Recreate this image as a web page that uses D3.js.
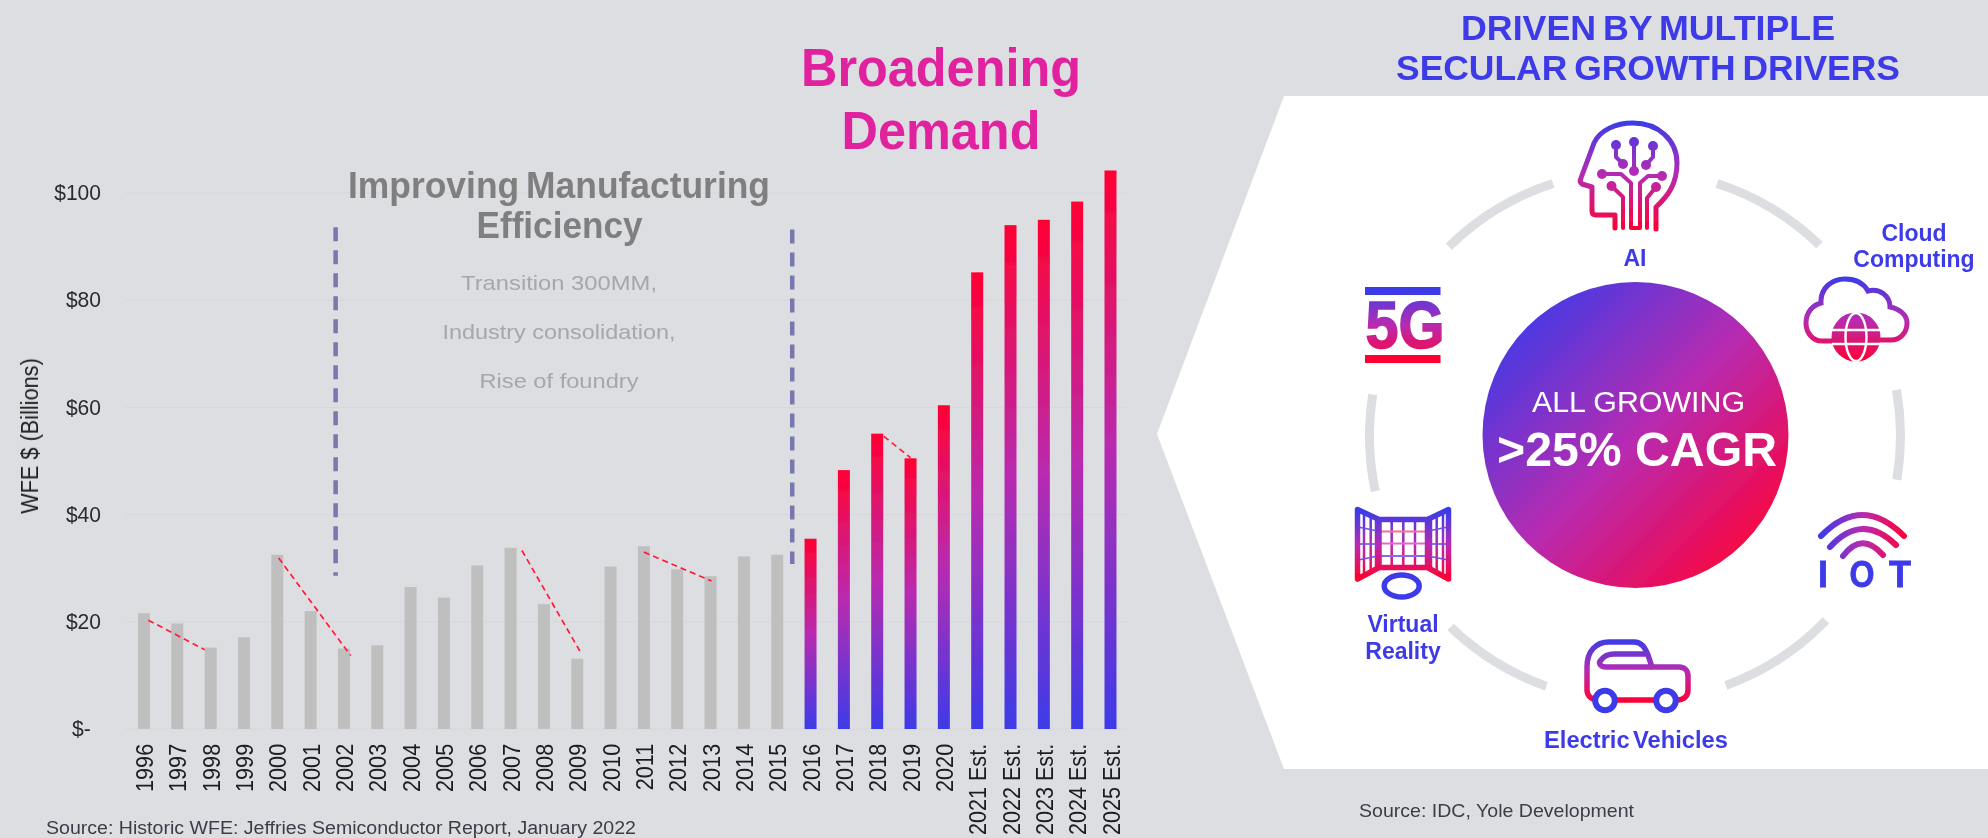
<!DOCTYPE html>
<html>
<head>
<meta charset="utf-8">
<script src="https://d3js.org/d3.v7.min.js"></script>
<style>
    html, body { margin: 0; padding: 0; background: #dddee2; overflow: hidden; }
    text { font-family: "Liberation Sans", Arial, sans-serif; }
</style>
</head>
<body>
<svg id="canvas" width="1988" height="838"></svg>

<script>
    // chart data
    const categories = ["1996","1997","1998","1999","2000","2001","2002","2003","2004","2005",
        "2006","2007","2008","2009","2010","2011","2012","2013","2014","2015",
        "2016","2017","2018","2019","2020","2021 Est.","2022 Est.","2023 Est.","2024 Est.","2025 Est."];
    const wfeValues = [21.6,19.7,15.2,17.1,32.5,22,15,15.6,26.5,24.5,
        30.5,33.8,23.3,13.1,30.3,34.1,29.8,28.5,32.2,32.5,
        35.5,48.3,55.1,50.5,60.4,85.2,94,95,98.4,104.2];
    const firstBroadening = "2016";
    const yTicks = [0,20,40,60,80,100];
    // downturn lines: [year, value, year, value]
    const downturns = [
        [1996.13,20.3,1997.82,14.8],
        [2000.04,31.9,2002.2,13.7],
        [2007.34,33.3,2009.1,14.3],
        [2011.0,33,2013.03,27.6],
        [2018.2,54.6,2019,50.6]
    ];
    // era dividers: [year, top value, bottom value]
    const dividers = [[2001.75,93.6,28.6],[2015.45,93.2,30.8]];
    const manufacturingNotes = ["Transition 300MM,","Industry consolidation,","Rise of foundry"];
    const noteWidths = [196,233,159];
    // ring segments around the circle, degrees clockwise from the top
    const ringSegments = [[18,44],[80,99.5],[134,160],[199.5,224],[258,279],[315.5,342]];

    const BLUE = "#3d3be8", MID = "#b82bb0", RED = "#ff0033";
    const svg = d3.select("#canvas");
    const defs = svg.append("defs");

    function gradient(id, x1, y1, x2, y2, units) {
        const g = defs.append("linearGradient").attr("id", id)
            .attr("gradientUnits", units || "userSpaceOnUse")
            .attr("x1", x1).attr("y1", y1).attr("x2", x2).attr("y2", y2);
        g.append("stop").attr("offset", 0).attr("stop-color", BLUE);
        g.append("stop").attr("offset", 0.5).attr("stop-color", MID);
        g.append("stop").attr("offset", 1).attr("stop-color", RED);
    }
    gradient("barGrad", 0, 1, 0, 0, "objectBoundingBox");
    gradient("circleGrad", 1510, 310, 1765, 565);
    gradient("aiGrad", 0, 122, 0, 230);
    gradient("cloudGrad", 0, 278, 0, 362);
    gradient("fiveGrad", 0, -54, 0, 13); // local to the scaled 5G text
    gradient("iotGrad", 1820, 0, 1906, 0);
    gradient("carGrad", 0, 640, 0, 702);
    gradient("vrGrad", 0, 512, 0, 578);

    const blur = defs.append("filter").attr("id", "soft");
    blur.append("feGaussianBlur").attr("stdDeviation", 0.45);

    const root = svg.append("g").attr("filter", "url(#soft)");

    // left chart
    const y = d3.scaleLinear().domain([0, 100]).range([729, 193]);
    const x = d3.scalePoint().domain(categories).range([144, 1110.5]);
    const yearX = d3.scaleLinear().domain([1996, 2025]).range([144, 1110.5]);
    const barWidth = 12;
    const gridRight = 1127, gridLeft = 125.5;

    root.append("g").selectAll("line").data(yTicks).join("line")
        .attr("x1", gridLeft).attr("x2", gridRight)
        .attr("y1", d => y(d)).attr("y2", d => y(d))
        .attr("stroke", "#d6d7da").attr("stroke-width", 1);

    const yAxis = d3.axisLeft(y).tickValues(yTicks).tickSize(0)
        .tickFormat(d => d === 0 ? "$-" : "$" + d);
    const yG = root.append("g").attr("transform", "translate(101,0)").call(yAxis);
    yG.select(".domain").remove();
    yG.selectAll("text").attr("transform", "scale(0.94,1)")
        .attr("x", d => d === 0 ? -11 : 0).attr("dy", "0.3em")
        .style("font-size", "22.4px").style("font-family", "Liberation Sans").attr("fill", "#2b2b30");

    root.append("text").attr("transform", "translate(38,436) rotate(-90) scale(0.905,1)")
        .attr("text-anchor", "middle").attr("font-size", 24).attr("fill", "#1c1c20")
        .text("WFE $ (Billions)");

    const start = categories.indexOf(firstBroadening);
    root.append("g").selectAll("rect").data(categories).join("rect")
        .attr("x", d => x(d) - barWidth / 2)
        .attr("width", barWidth)
        .attr("y", (d, i) => y(wfeValues[i]))
        .attr("height", (d, i) => y(0) - y(wfeValues[i]))
        .attr("fill", (d, i) => i >= start ? "url(#barGrad)" : "#bfbfbf");

    const xAxis = d3.axisBottom(x).tickSize(0);
    const xG = root.append("g").attr("transform", "translate(0,729)").call(xAxis);
    xG.select(".domain").remove();
    xG.selectAll("text")
        .attr("transform", "rotate(-90) scale(0.9,1)")
        .attr("text-anchor", "end")
        .attr("x", -16.5).attr("y", 0).attr("dy", "0.36em")
        .style("font-size", "24px").style("font-family", "Liberation Sans").attr("fill", "#1c1c20");

    root.append("g").selectAll("line").data(downturns).join("line")
        .attr("x1", d => yearX(d[0])).attr("y1", d => y(d[1]))
        .attr("x2", d => yearX(d[2])).attr("y2", d => y(d[3]))
        .attr("stroke", "#ff1a3c").attr("stroke-width", 1.7).attr("stroke-dasharray", "6 4");

    root.append("g").selectAll("line").data(dividers).join("line")
        .attr("x1", d => yearX(d[0])).attr("x2", d => yearX(d[0]))
        .attr("y1", d => y(d[1])).attr("y2", d => y(d[2]))
        .attr("stroke", "#7778ae").attr("stroke-width", 4.5).attr("stroke-dasharray", "14 9");

    function label(parent, str, cx, base, size, fill, width, weight, opts) {
        const o = opts || {};
        const t = parent.append("text")
            .attr("text-anchor", "middle").attr("font-size", size).attr("fill", fill)
            .attr("font-weight", weight || "normal").text(str);
        if (o.sy) t.attr("transform", `translate(${cx},${base}) scale(1,${o.sy})`);
        else t.attr("x", cx).attr("y", base);
        if (o.ws) t.attr("word-spacing", o.ws);
        if (width) t.attr("textLength", width).attr("lengthAdjust", "spacingAndGlyphs");
        return t;
    }

    label(root, "Broadening", 941, 85.5, 51, "#e0219e", 280, "bold", { sy: 1.05 });
    label(root, "Demand", 941, 148.5, 51, "#e0219e", 199, "bold", { sy: 1.05 });
    label(root, "Improving Manufacturing", 559, 198, 36, "#7f7f7f", 422, "bold", { ws: -3 });
    label(root, "Efficiency", 559.5, 238, 36, "#7f7f7f", 166, "bold");
    manufacturingNotes.forEach((n, i) => label(root, n, 559, 290 + i * 49, 21, "#a6a6ae", noteWidths[i]));

    label(root, "Source: Historic WFE: Jeffries Semiconductor Report, January 2022", 341, 834, 18, "#3c3c48", 590);

    // right panel
    root.append("polygon")
        .attr("points", [[1284,96],[1988,96],[1988,769],[1284,769],[1157,434]].map(p => p.join(",")).join(" "))
        .attr("fill", "#ffffff");

    label(root, "DRIVEN BY MULTIPLE", 1648, 39.5, 35.5, BLUE, 374, "bold", { ws: -3 });
    label(root, "SECULAR GROWTH DRIVERS", 1648, 80, 35.5, BLUE, 504, "bold", { ws: -3 });
    label(root, "Source: IDC, Yole Development", 1496.5, 817, 18.5, "#3c3c48", 275);

    const cx = 1635, cy = 436;
    const arc = d3.arc().innerRadius(261).outerRadius(270);
    root.append("g").attr("transform", `translate(${cx},${cy})`)
        .selectAll("path").data(ringSegments).join("path")
        .attr("d", d => arc({ startAngle: d[0] * Math.PI / 180, endAngle: d[1] * Math.PI / 180 }))
        .attr("fill", "#dddee2");

    root.append("circle").attr("cx", 1635.5).attr("cy", 435).attr("r", 153).attr("fill", "url(#circleGrad)");
    label(root, "ALL GROWING", 1638.5, 411.5, 30, "#ffffff", 213);
    label(root, ">25% CAGR", 1637, 465.5, 49, "#ffffff", 280, "bold");

    // icon labels
    label(root, "AI", 1635, 266, 23, BLUE, null, "bold");
    label(root, "Cloud", 1914, 241, 23, BLUE, null, "bold");
    label(root, "Computing", 1914, 266.5, 23, BLUE, null, "bold");
    label(root, "Virtual", 1403, 632, 23, BLUE, null, "bold");
    label(root, "Reality", 1403, 658.5, 23, BLUE, null, "bold");
    label(root, "Electric Vehicles", 1636, 748, 23, BLUE, 184, "bold", { ws: -3 });

    // AI head icon
    const ai = root.append("g").attr("fill", "none").attr("stroke", "url(#aiGrad)").attr("stroke-width", 5)
        .attr("stroke-linecap", "round").attr("stroke-linejoin", "round");
    ai.append("path").attr("d", "M1615,228 V215 H1596 Q1592,215 1592,211 V187 L1582,184 Q1579,182 1581,178 L1594,143 C1600,130 1616,123 1633,123 C1658,123 1677,140 1677,163 C1677,184 1668,196 1656,207 V229");
    ["M1634,142 V171","M1616,145 V157 L1623,164","M1653,146 V157 L1646,165",
     "M1602,174 H1621 L1631,183 V228 H1640 V183 L1648,176 H1662",
     "M1611.5,186 L1623,197 V228","M1656,187 L1647,198 V228"].forEach(d => ai.append("path").attr("d", d).attr("stroke-width", 4));
    const aiNodes = [[1634,142],[1616,145],[1653,146],[1623,164],[1646,165],[1634,171],[1602,174],[1662,176],[1611.5,186],[1656,187]];
    ai.selectAll("circle").data(aiNodes).join("circle")
        .attr("cx", d => d[0]).attr("cy", d => d[1]).attr("r", 5)
        .attr("fill", "url(#aiGrad)").attr("stroke", "none");

    // cloud icon
    const cloud = root.append("g");
    cloud.append("path").attr("fill", "none").attr("stroke", "url(#cloudGrad)").attr("stroke-width", 5)
        .attr("stroke-linecap", "round")
        .attr("d", "M1832,341 H1822 C1812,341 1806,332 1806,323 C1806,312 1813,305 1821,303 C1820,288 1832,279 1845,279 C1856,279 1864,284 1868,291 C1880,288 1890,296 1890,307 C1900,309 1907,315 1907,323 C1907,333 1900,340 1891,340 H1881");
    cloud.append("circle").attr("cx", 1856).attr("cy", 337).attr("r", 24.5).attr("fill", "url(#cloudGrad)");
    const globe = cloud.append("g").attr("fill", "none").attr("stroke", "#fff").attr("stroke-width", 2.4);
    globe.append("ellipse").attr("cx", 1856).attr("cy", 337).attr("rx", 10.5).attr("ry", 24);
    globe.append("line").attr("x1", 1832).attr("x2", 1880).attr("y1", 330).attr("y2", 330);
    globe.append("line").attr("x1", 1832).attr("x2", 1880).attr("y1", 344).attr("y2", 344);

    // 5G icon
    root.append("rect").attr("x", 1365).attr("y", 287).attr("width", 75.5).attr("height", 8).attr("fill", BLUE);
    root.append("rect").attr("x", 1365).attr("y", 355).attr("width", 75.5).attr("height", 8).attr("fill", RED);
    label(root, "5G", 1405, 348, 60, "url(#fiveGrad)", 79, "bold", { sy: 1.12 })
        .attr("stroke", "url(#fiveGrad)").attr("stroke-width", 1.5);

    // IOT icon
    const iot = root.append("g");
    iot.append("g").attr("fill", "none").attr("stroke", "url(#iotGrad)").attr("stroke-width", 6).attr("stroke-linecap", "round")
        .selectAll("path").data(["M1821,536 Q1862,494 1904,536","M1830,547 Q1862,512 1896,545","M1843,556 Q1862,531 1883,555"])
        .join("path").attr("d", d => d);
    label(iot, "I", 1823, 586.5, 36, BLUE, null, "bold").attr("stroke", BLUE).attr("stroke-width", 0.8);
    label(iot, "O", 1862, 586.5, 36, BLUE, 25, "bold").attr("stroke", BLUE).attr("stroke-width", 0.8);
    label(iot, "T", 1900, 586.5, 36, BLUE, null, "bold").attr("stroke", BLUE).attr("stroke-width", 0.8);

    // car icon
    const car = root.append("g");
    car.append("path").attr("fill", "none").attr("stroke", "url(#carGrad)").attr("stroke-width", 5.5).attr("stroke-linejoin", "round")
        .attr("d", "M1598,700 C1591,700 1587,695 1587,690 V667 C1587,651 1596,642 1609,642 H1634 C1642,642 1645,648 1648,655 L1652,667 H1679 C1685,667 1688,671 1688,676 V690 C1688,696 1684,700 1677,700 Z");
    car.append("path").attr("fill", "none").attr("stroke", "url(#carGrad)").attr("stroke-width", 5.5).attr("stroke-linejoin", "round")
        .attr("d", "M1652,667 H1606 C1600,667 1598,663 1601,660 C1604,656 1609,654 1614,654 H1647");
    car.selectAll("circle").data([1605,1666]).join("circle")
        .attr("cx", d => d).attr("cy", 700.5).attr("r", 9.8)
        .attr("fill", "#fff").attr("stroke", BLUE).attr("stroke-width", 6);

    // VR icon
    const vr = root.append("g").attr("fill", "none").attr("stroke", "url(#vrGrad)");
    [1391.7,1403.3,1415].forEach(v => vr.append("line").attr("stroke-width", 2.5).attr("x1", v).attr("x2", v).attr("y1", 519).attr("y2", 567));
    [1364,1370.7,1376,1431,1436.7,1443].forEach(v => {
        const d = v < 1403 ? (1379 - v) * 0.45 : (v - 1427) * 0.45;
        vr.append("line").attr("stroke-width", 2.5).attr("x1", v).attr("x2", v).attr("y1", 519 - d).attr("y2", 567 + d * 0.9);
    });
    [[1381,1425,531.5,"#ff6a90"],[1381,1425,543.5,"#e46ac8"],[1381,1425,556,"#8a68ee"]].forEach(l =>
        vr.append("line").attr("stroke", l[3]).attr("stroke-width", 1.8).attr("x1", l[0]).attr("x2", l[1]).attr("y1", l[2]).attr("y2", l[2]));
    [[1358,527,1378,531],[1358,544,1378,544],[1358,560,1378,556],[1448,527,1428,531],[1448,544,1428,544],[1448,560,1428,556]].forEach(l =>
        vr.append("line").attr("stroke", "#6a55e8").attr("stroke-width", 1.6).attr("x1", l[0]).attr("y1", l[1]).attr("x2", l[2]).attr("y2", l[3]));
    vr.append("path").attr("stroke-width", 5.5).attr("stroke-linejoin", "round")
        .attr("d", "M1357.5,509.5 L1379,519.5 H1427.5 L1448.5,509.5 V579 L1427.5,567.5 H1379 L1357.5,579 Z M1379,519.5 V567.5 M1427.5,519.5 V567.5");
    root.append("ellipse").attr("cx", 1401.7).attr("cy", 586).attr("rx", 17.5).attr("ry", 11)
        .attr("fill", "none").attr("stroke", BLUE).attr("stroke-width", 5.5);
</script>

</body>
</html>
